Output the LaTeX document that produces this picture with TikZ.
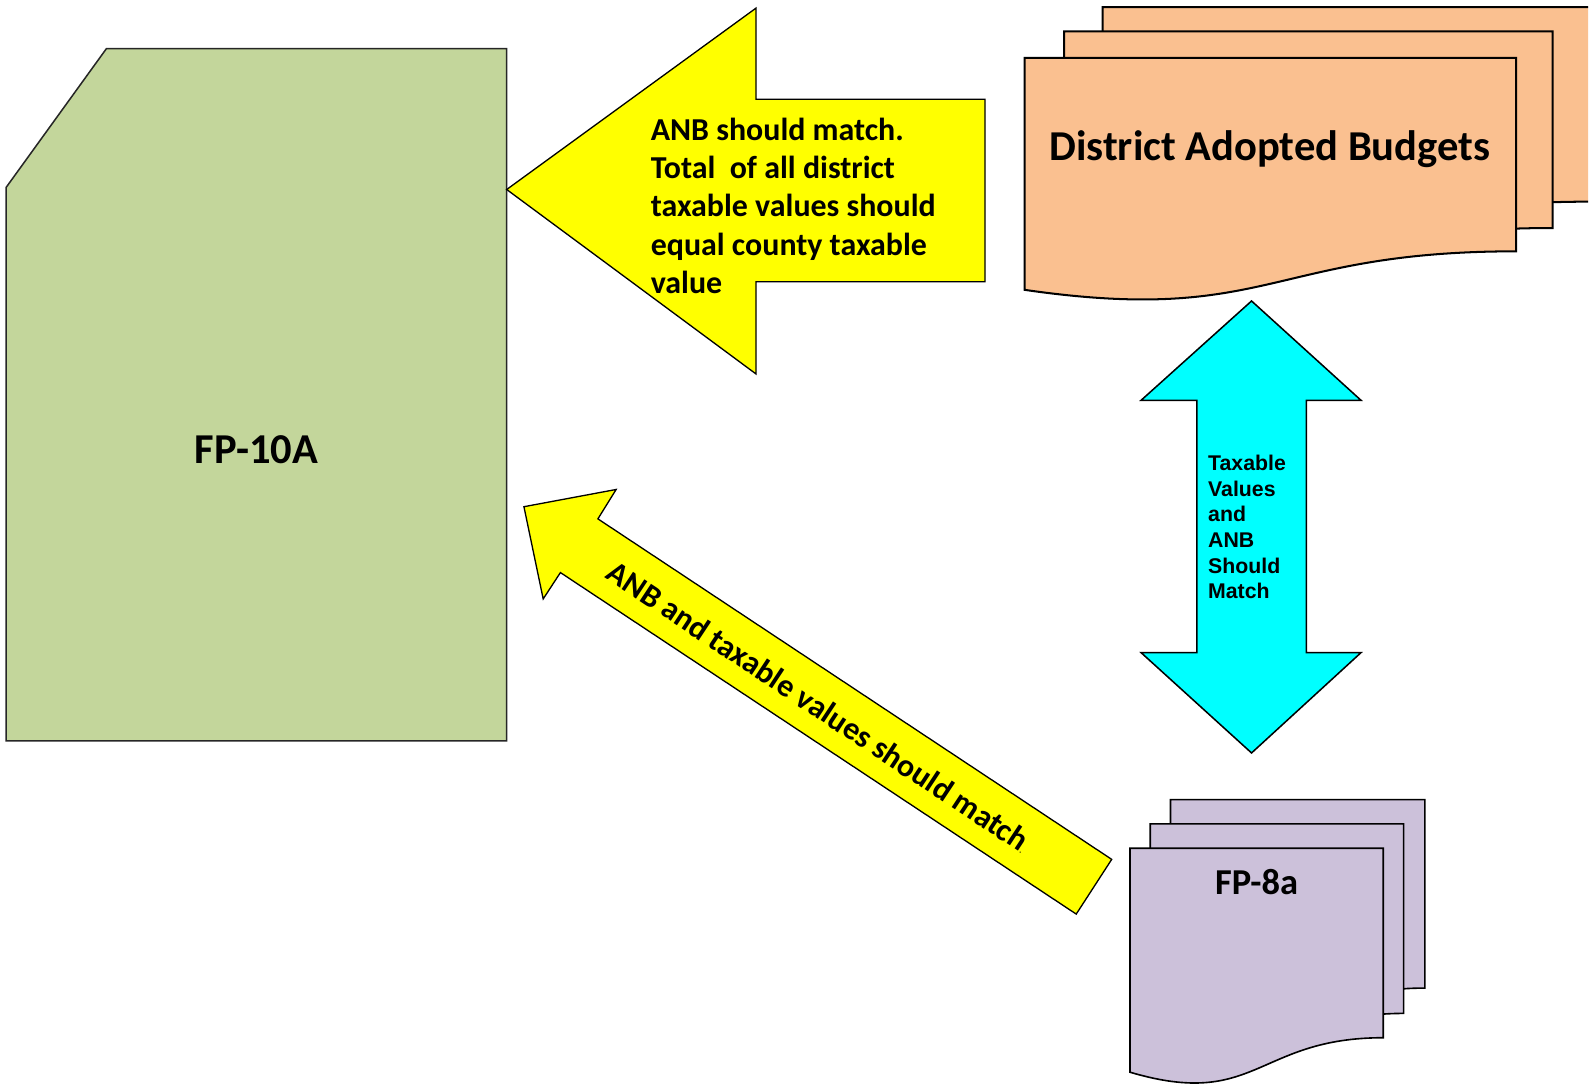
\documentclass[tikz,border=0pt]{standalone}
\usepackage{fontspec}
\setmainfont{Carlito}
\newfontfamily\arialfont{Liberation Sans}
\usetikzlibrary{positioning}
\definecolor{VerdeForm}{RGB}{195,214,155}
\definecolor{NaranjaDoc}{RGB}{250,192,144}
\definecolor{LilaDoc}{RGB}{204,193,218}
\definecolor{AmarilloFlecha}{RGB}{255,255,0}
\definecolor{CianFlecha}{RGB}{0,255,255}
\tikzstyle{FormBase}=[draw=black!85, fill=VerdeForm, line width=1.5]
\tikzstyle{BudgetDoc}=[draw=black, fill=NaranjaDoc, line width=2]
\tikzstyle{EstimateDoc}=[draw=black, fill=LilaDoc, line width=1.6]
\tikzstyle{FlechaAmarilla}=[draw=black, fill=AmarilloFlecha, line width=1.3]
\tikzstyle{FlechaCian}=[draw=black, fill=CianFlecha, line width=1.5]
\tikzstyle{Titulo}=[inner sep=0, font=\fontsize{42}{50}\selectfont\bfseries]
\tikzstyle{Nota}=[inner sep=0, align=left, font=\fontsize{31.5}{37.7}\selectfont\bfseries]
\tikzstyle{NotaCian}=[inner sep=0, align=left, font=\arialfont\fontsize{21}{25.3}\selectfont\bfseries]

\begin{document}
\begin{tikzpicture}[x=1pt, y=-1pt]
			\useasboundingbox (0,0) rectangle (1568,1071.6);

			%Formularios
			\draw[FormBase] (6,185) -- (105,48) -- (500,48) -- (500,731) -- (6,731) -- cycle;

			\fill[NaranjaDoc] (1088,7) -- (1567,7) -- (1567,199) .. controls (1330,199) and (1330,272) .. (1088,237) -- cycle;
			\draw[BudgetDoc, fill=none] (1567,7) -- (1088,7) -- (1088,237) .. controls (1330,272) and (1330,199) .. (1567,199);
			\draw[BudgetDoc] (1050,31) -- (1532,31) -- (1532,225) .. controls (1291,225) and (1291,298) .. (1050,263) -- cycle;
			\draw[BudgetDoc] (1011,57) -- (1496,57) -- (1496,248) .. controls (1253,248) and (1253,321) .. (1011,286) -- cycle;

			\draw[EstimateDoc] (1155,789) -- (1406,789) -- (1406,975) .. controls (1280,975) and (1280,1046) .. (1155,1009) -- cycle;
			\draw[EstimateDoc] (1135,813) -- (1385,813) -- (1385,1000) .. controls (1260,1000) and (1260,1071) .. (1135,1034) -- cycle;
			\draw[EstimateDoc] (1115,837) -- (1365,837) -- (1365,1024) .. controls (1240,1024) and (1240,1095) .. (1115,1058) -- cycle;

			%Flechas
			\draw[FlechaAmarilla] (500,187) -- (746,8) -- (746,98) -- (972,98) -- (972,278) -- (746,278) -- (746,369) -- cycle;
			\draw[FlechaAmarilla] (517,500) -- (608,483) -- (590,512) -- (1097,848) -- (1062,902) -- (553,565) -- (536,591) -- cycle;
			\draw[FlechaCian] (1235,297) -- (1343,395) -- (1289,395) -- (1289,644) -- (1343,644) -- (1235,743) -- (1126,644) -- (1181,644) -- (1181,395) -- (1126,395) -- cycle;

			%Textos
			\node[Titulo]	(fp10a)		at (253,444)	{FP-10A};
			\node[Titulo]	(budgets)	at (1253,147)	{District Adopted Budgets};
			\node[Titulo, font=\fontsize{36}{43}\selectfont\bfseries]	(fp8a)	at (1240,870)	{FP-8a};

			\node[Nota, anchor=west]	(anbnote)	at (642,203)	{ANB should match.\\Total\ \ of all district\\taxable values should\\equal county taxable\\value};
			\node[Nota, rotate=-33.5]	(matchnote)	at (808,697)	{ANB and taxable values should match{\fontsize{8}{8}\selectfont.}};
			\node[NotaCian, anchor=west]	(cyannote)	at (1192,520)	{Taxable\\Values\\and\\ANB\\Should\\Match};

		\end{tikzpicture}
\end{document}
